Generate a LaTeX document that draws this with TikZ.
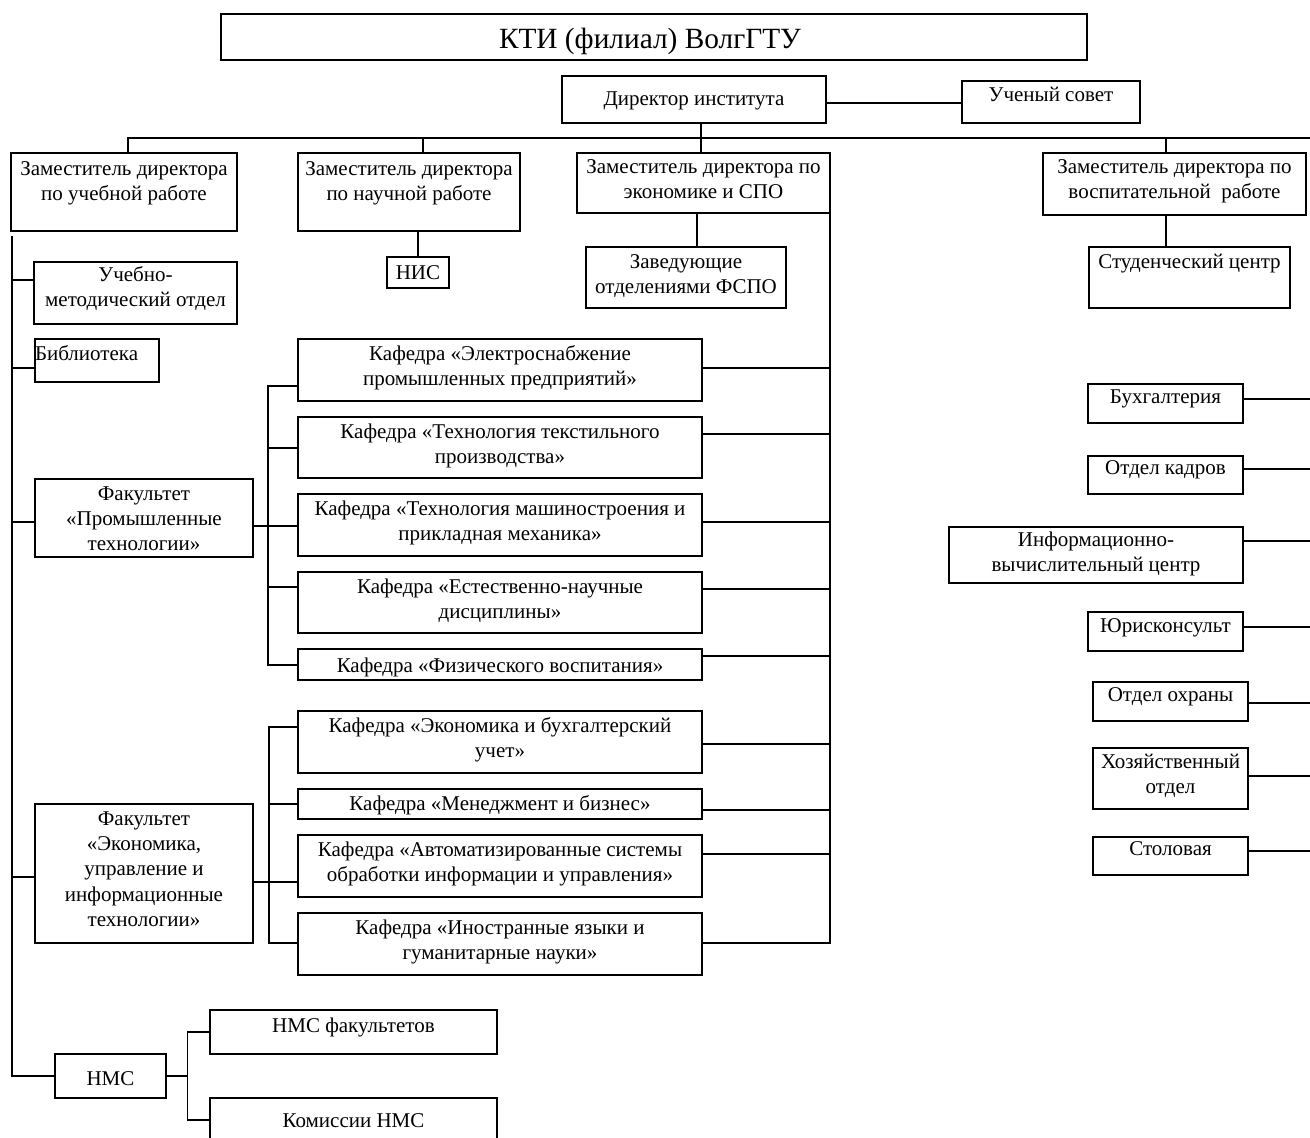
\documentclass[tikz,border=0pt]{standalone}
\usepackage{fontspec}
\setmainfont{Liberation Serif}
\tikzset{
  box/.style={draw, line width=1.3pt, inner sep=0pt, outer sep=0pt, anchor=north west},
  conn/.style={line width=1.3pt},
}
% #1 name, #2 x1, #3 y1, #4 x2, #5 y2, #6 first baseline offset (px), #7 alignment, #8 text
\newcommand\ob[8]{%
  \pgfmathsetlengthmacro\obw{(#4-#2)*0.75pt}%
  \pgfmathsetlengthmacro\obh{(#5-#3)*0.75pt}%
  \pgfmathsetlengthmacro\obb{#6*0.75pt}%
  \node[box] (#1) at (#2,#3) {\parbox[t][\obh][t]{\obw}{#7\rule{0pt}{\obb}#8}};%
}
% horizontal connector at height #2 (px) between x of #1 and x of #3
\newcommand\hl[3]{%
  \path (0,#2) coordinate (hy);%
  \draw[conn] (#1 |- hy) -- (#3 |- hy);%
}
\begin{document}
\begin{tikzpicture}[x=0.75pt,y=-0.75pt,font=\fontsize{15.75}{19.1}\selectfont]
\useasboundingbox (0,0) rectangle (1310,1138);

% ---- boxes ----
\ob{title}{221}{14}{1087}{60}{35}{\centering}{\fontsize{22}{26}\selectfont КТИ (филиал) ВолгГТУ\hspace*{6pt}}
\ob{dir}{562}{76}{826}{123}{29}{\centering}{Директор института}
\ob{uc}{962}{81}{1140}{123}{21}{\centering}{Ученый совет}
\ob{zu}{11}{153}{237}{231}{22}{\centering}{Заместитель директора\\по учебной работе}
\ob{zn}{298}{153}{520}{231}{22}{\centering}{Заместитель директора\\по научной работе}
\ob{ze}{577}{153}{830}{213}{20}{\centering}{Заместитель директора по\\экономике и СПО}
\ob{zv}{1043}{153}{1306}{215}{20}{\centering}{Заместитель директора по\\воспитательной\ \ работе}
\ob{nis}{387}{257}{449}{288}{22}{\centering}{НИС}
\ob{zav}{586}{247}{786}{308}{21}{\centering}{Заведующие\\отделениями ФСПО}
\ob{stud}{1089}{247}{1290}{308}{21}{\centering}{Студенческий центр}
\ob{umo}{34}{262}{237}{324}{19}{\centering}{Учебно-\\методический отдел}
\ob{lib}{35}{339}{159}{382}{21}{\raggedright}{Библиотека}
\ob{fp}{35}{479}{253}{557}{21}{\centering}{Факультет\\«Промышленные\\технологии»}
\ob{k1}{298}{339}{702}{401}{21}{\centering}{Кафедра «Электроснабжение\\промышленных предприятий»}
\ob{k2}{298}{417}{702}{478}{21}{\centering}{Кафедра «Технология текстильного\\производства»}
\ob{k3}{298}{494}{702}{556}{21}{\centering}{Кафедра «Технология машиностроения и\\прикладная механика»}
\ob{k4}{298}{572}{702}{633}{21}{\centering}{Кафедра «Естественно-научные\\дисциплины»}
\ob{k5}{298}{649}{702}{680}{23}{\centering}{Кафедра «Физического воспитания»}
\ob{k6}{298}{711}{702}{773}{21}{\centering}{Кафедра «Экономика и бухгалтерский\\учет»}
\ob{k7}{298}{789}{702}{819}{21}{\centering}{Кафедра «Менеджмент и бизнес»}
\ob{k8}{298}{835}{702}{897}{21}{\centering}{Кафедра «Автоматизированные системы\\обработки информации и управления»}
\ob{k9}{298}{913}{702}{975}{21}{\centering}{Кафедра «Иностранные языки и\\гуманитарные науки»}
\ob{fe}{35}{804}{253}{943}{21}{\centering}{Факультет\\«Экономика,\\управление и\\информационные\\технологии»}
\ob{nms}{55}{1054}{166}{1098}{31}{\centering}{НМС}
\ob{nmsf}{210}{1010}{497}{1054}{22}{\centering}{НМС факультетов}
\ob{kom}{210}{1098}{497}{1146}{29}{\centering}{Комиссии НМС}
\ob{buh}{1088}{384}{1243}{423}{19}{\centering}{Бухгалтерия}
\ob{ok}{1088}{456}{1243}{494}{18}{\centering}{Отдел кадров}
\ob{ivc}{949}{527}{1243}{583}{19}{\centering}{Информационно-\\вычислительный центр}
\ob{jur}{1088}{612}{1243}{651}{20}{\centering}{Юрисконсульт}
\ob{oh}{1093}{682}{1248}{721}{19}{\centering}{Отдел охраны}
\ob{hoz}{1093}{748}{1248}{809}{20}{\centering}{Хозяйственный\\отдел}
\ob{stol}{1093}{837}{1248}{875}{18}{\centering}{Столовая}

% ---- top connectors ----
\hl{dir.east}{103}{uc.west}
\coordinate (dx) at (701,0);
\draw[conn] (dir.south -| dx) -- (ze.north -| dx);
\coordinate (bus0) at (128,138);
\coordinate (bus1) at (1314,138);
\draw[conn] (zu.north -| bus0) -- (bus0) -- (bus1);
\coordinate (xzn) at (423,138);
\draw[conn] (xzn) -- (zn.north -| xzn);
\coordinate (xzv) at (1166,138);
\draw[conn] (xzv) -- (zv.north -| xzv);
\draw[conn] (zv.south -| xzv) -- (stud.north -| xzv);
\coordinate (xnis) at (418,0);
\draw[conn] (zn.south -| xnis) -- (nis.north -| xnis);
\coordinate (xzav) at (697,0);
\draw[conn] (ze.south -| xzav) -- (zav.north -| xzav);

% ---- right bus of deputy for economics ----
\draw[conn] (ze.south east) -- (ze.east |- k9.east);
\hl{k1.east}{368}{ze.east}
\hl{k2.east}{434}{ze.east}
\hl{k3.east}{522}{ze.east}
\hl{k4.east}{589}{ze.east}
\hl{k5.east}{656}{ze.east}
\hl{k6.east}{744}{ze.east}
\hl{k7.east}{810}{ze.east}
\hl{k8.east}{854}{ze.east}
\hl{k9.east}{943}{ze.east}

% ---- left trunk ----
\coordinate (lt) at (12,236);
\draw[conn] (lt) -- (lt |- nms.west) -- (nms.west);
\hl{lt}{280}{umo.west}
\hl{lt}{368}{lib.west}
\hl{lt}{522}{fp.west}
\hl{lt}{877}{fe.west}

% ---- faculty 1 ----
\coordinate (s1a) at (268,386);
\coordinate (s1b) at (268,665);
\draw[conn] (k1.west |- s1a) -- (s1a) -- (s1b) -- (k5.west |- s1b);
\hl{s1a}{448}{k2.west}
\hl{fp.east}{526}{k3.west}
\hl{s1a}{587}{k4.west}

% ---- faculty 2 ----
\coordinate (s2a) at (269,727);
\coordinate (s2b) at (269,943);
\draw[conn] (k6.west |- s2a) -- (s2a) -- (s2b) -- (k9.west |- s2b);
\hl{s2a}{804}{k7.west}
\hl{fe.east}{882}{k8.west}

% ---- NMS ----
\coordinate (s3a) at (187.5,1032);
\coordinate (s3b) at (187.5,1120);
\draw[conn] (nmsf.west |- s3a) -- (s3a) -- (s3b) -- (kom.west |- s3b);
\draw[conn] (nms.east) -- (s3a |- nms.east);

% ---- right column ----
\coordinate (rr) at (1314,0);
\hl{buh.east}{399}{rr}
\hl{ok.east}{469}{rr}
\hl{ivc.east}{541}{rr}
\hl{jur.east}{627}{rr}
\hl{oh.east}{703}{rr}
\hl{hoz.east}{776}{rr}
\hl{stol.east}{851}{rr}
\end{tikzpicture}
\end{document}
